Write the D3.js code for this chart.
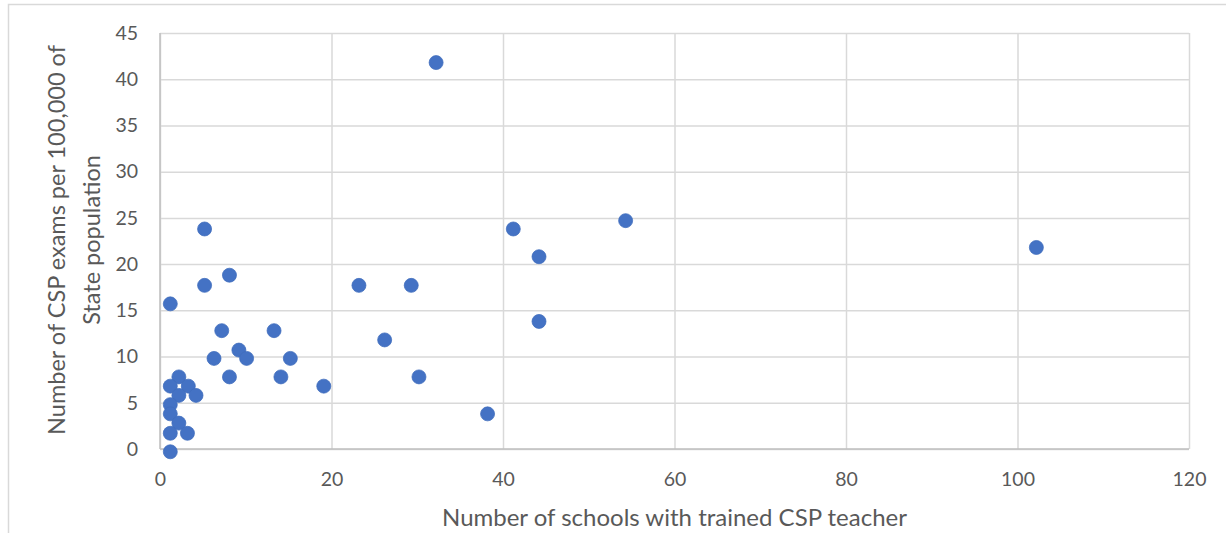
<!DOCTYPE html>
<html>
<head>
<meta charset="utf-8">
<script src="https://cdn.jsdelivr.net/npm/d3@7"></script>
<style>
  html, body { margin: 0; padding: 0; background: #fff; }
  svg { display: block; }
  text { font-family: Lato, "Open Sans", sans-serif; fill: #595959; }
</style>
</head>
<body>
<svg id="chart" width="1226" height="533"></svg>
<script>
// Schools with a trained CSP teacher (x) vs CSP exams per 100,000 population (y)
const schools = [1.2, 5.2, 8.1, 5.2, 7.2, 13.3, 9.2, 10.1, 6.3, 15.2, 8.1, 14.1, 19.1,
  2.2, 1.2, 3.3, 4.2, 2.2, 1.2, 1.2, 2.2, 1.2, 3.2, 1.2,
  23.2, 29.3, 26.2, 30.2, 38.2, 32.2, 41.2, 44.2, 44.2, 54.3, 102.2];
const examsPer100k = [15.7, 17.7, 18.8, 23.8, 12.8, 12.8, 10.7, 9.8, 9.8, 9.8, 7.8, 7.8, 6.8,
  7.8, 6.8, 6.8, 5.8, 5.8, 4.8, 3.8, 2.8, 1.7, 1.7, -0.3,
  17.7, 17.7, 11.8, 7.8, 3.8, 41.8, 23.8, 20.8, 13.8, 24.7, 21.8];
const xTicks = [0, 20, 40, 60, 80, 100, 120];
const yTicks = [0, 5, 10, 15, 20, 25, 30, 35, 40, 45];
const xTitle = "Number of schools with trained CSP teacher";
const yTitleLines = ["Number of CSP exams per 100,000 of", "State population"];

const svg = d3.select("#chart");
const W = 1226, H = 533;
const plot = { left: 160, right: 1189, top: 33, bottom: 449 };

// outer chart frame
svg.append("rect")
  .attr("x", 8.5).attr("y", 4.5)
  .attr("width", W + 10).attr("height", H + 10)
  .attr("fill", "none").attr("stroke", "#d9d9d9").attr("stroke-width", 1.5);

const x = d3.scaleLinear().domain([0, 120]).range([plot.left, plot.right]);
const y = d3.scaleLinear().domain([0, 45]).range([plot.bottom, plot.top]);

// gridlines
svg.append("g")
  .attr("transform", `translate(0,${plot.bottom})`)
  .call(d3.axisBottom(x).tickValues(xTicks).tickSize(-(plot.bottom - plot.top)).tickFormat(""))
  .call(g => g.select(".domain").remove())
  .call(g => g.selectAll("line").attr("stroke", "#d9d9d9").attr("stroke-width", 1.5));
svg.append("g")
  .attr("transform", `translate(${plot.left},0)`)
  .call(d3.axisLeft(y).tickValues(yTicks).tickSize(-(plot.right - plot.left)).tickFormat(""))
  .call(g => g.select(".domain").remove())
  .call(g => g.selectAll("line").attr("stroke", "#d9d9d9").attr("stroke-width", 1.5));

// axis lines
svg.append("line")
  .attr("x1", plot.left).attr("x2", plot.left).attr("y1", plot.top).attr("y2", plot.bottom)
  .attr("stroke", "#bfbfbf").attr("stroke-width", 1.5);
svg.append("line")
  .attr("x1", plot.left).attr("x2", plot.right).attr("y1", plot.bottom).attr("y2", plot.bottom)
  .attr("stroke", "#bfbfbf").attr("stroke-width", 1.5);

// tick labels
const xAxis = svg.append("g")
  .attr("transform", `translate(0,${plot.bottom})`)
  .call(d3.axisBottom(x).tickValues(xTicks).tickSize(0).tickPadding(23).tickFormat(d3.format("d")));
xAxis.select(".domain").remove();
xAxis.selectAll("text").attr("font-size", 19.5).attr("font-family", "Lato").attr("fill", "#595959");

const yAxis = svg.append("g")
  .attr("transform", `translate(${plot.left},0)`)
  .call(d3.axisLeft(y).tickValues(yTicks).tickSize(0).tickPadding(22).tickFormat(d3.format("d")));
yAxis.select(".domain").remove();
yAxis.selectAll("text").attr("font-size", 19.5).attr("font-family", "Lato").attr("fill", "#595959");

// axis titles
svg.append("text")
  .attr("x", (plot.left + plot.right) / 2)
  .attr("y", 526)
  .attr("text-anchor", "middle")
  .attr("font-size", 24)
  .text(xTitle);

const yT = svg.append("text")
  .attr("transform", "translate(0,240) rotate(-90)")
  .attr("text-anchor", "middle")
  .attr("font-size", 23.5);
yT.selectAll("tspan").data(yTitleLines).join("tspan")
  .attr("x", 0)
  .attr("y", (d, i) => i === 0 ? 65 : 100)
  .text(d => d);

// points
svg.append("g")
  .selectAll("circle")
  .data(schools.map((s, i) => [s, examsPer100k[i]]))
  .join("circle")
  .attr("cx", d => x(d[0]))
  .attr("cy", d => y(d[1]))
  .attr("r", 7)
  .attr("fill", "#4472c4")
  .attr("stroke", "#3f6cbc")
  .attr("stroke-width", 0.75);
</script>
</body>
</html>
